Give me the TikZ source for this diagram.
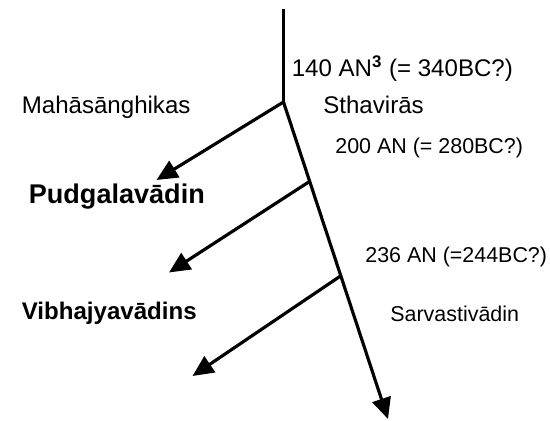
\documentclass[tikz,border=0pt]{standalone}
\usepackage{fontspec}
\setmainfont{Liberation Sans}
\usetikzlibrary{arrows.meta}

\begin{document}
\begin{tikzpicture} [scale = 1,
  branch/.style = {black, line width = 1.8pt, -{Triangle[length = 0.42cm, width = 0.38cm]}},
  lbl/.style = {black, anchor = base west, inner sep = 0pt},
  big/.style = {font = \fontsize{13.7}{16}\selectfont},
  small/.style = {font = \fontsize{12.2}{15}\selectfont}]
\useasboundingbox (0, 0) rectangle (11, 8.4);
\coordinate (top) at (5.67, 8.21);
\coordinate (s0) at (5.67, 6.36);
\coordinate (s1) at (6.19, 4.77);
\coordinate (s2) at (6.81, 2.88);
\coordinate (sarva) at (7.76, 0.02);
\coordinate (mah) at (3.13, 4.80);
\coordinate (pud) at (3.38, 2.95);
\coordinate (vibh) at (3.85, 0.88);
\draw[black, line width = 1.4pt] (top) -- (s0);
\draw[branch] (s0) -- (sarva);
\draw[branch] (s0) -- (mah);
\draw[branch] (s1) -- (pud);
\draw[branch] (s2) -- (vibh);
\node[lbl, big] (split) at (5.83, 6.87){140 AN\textsuperscript{\textbf{3}} (= 340BC?)};
\node[lbl, big] (sthav) at (6.46, 6.13){Sthavirās};
\node[lbl, big] (mahas) at (0.43, 6.13){Mahāsānghikas};
\node[lbl, small] (date2) at (6.70, 5.33){200 AN (= 280BC?)};
\node[lbl, font = \fontsize{15.4}{18}\bfseries] (pudg) at (0.57, 4.32){Pudgalavādin};
\node[lbl, small] (date3) at (7.30, 3.14){236 AN (=244BC?)};
\node[lbl, font = \fontsize{13.7}{16}\bfseries] (vibhaj) at (0.43, 2.0){Vibhajyavādins};
\node[lbl, small] (sarvas) at (7.80, 1.97){Sarvastivādin};
\end{tikzpicture}
\end{document}
